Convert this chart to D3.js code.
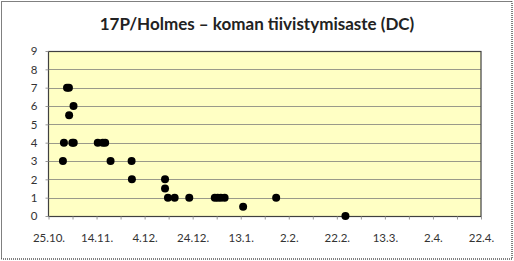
<!DOCTYPE html>
<html>
<head>
<meta charset="utf-8">
<script src="https://cdn.jsdelivr.net/npm/d3@7"></script>
<style>
  html, body { margin: 0; padding: 0; background: #fff; }
  svg { display: block; font-family: Lato, "Open Sans", sans-serif; }
</style>
</head>
<body>
<svg id="chart" width="514" height="261"></svg>
<script>
// observation times (UTC) and degree of condensation
const obsTimes = [
  "2007-10-31T00:00", "2007-10-31T10:00", "2007-11-01T17:00", "2007-11-02T12:00",
  "2007-11-02T14:00", "2007-11-04T10:00", "2007-11-03T22:00", "2007-11-04T12:00",
  "2007-11-14T12:00", "2007-11-16T14:00", "2007-11-17T14:00", "2007-11-19T20:00",
  "2007-11-28T14:00", "2007-11-28T17:00", "2007-12-12T12:00", "2007-12-12T12:00",
  "2007-12-13T17:00", "2007-12-16T12:00", "2007-12-22T14:00", "2008-01-02T05:00",
  "2008-01-03T10:00", "2008-01-04T17:00", "2008-01-06T07:00", "2008-01-14T00:00",
  "2008-01-27T18:00", "2008-02-25T14:00"
];
const dcValues = [3, 4, 7, 7, 5.5, 6, 4, 4, 4, 4, 4, 3, 3, 2, 2, 1.5, 1, 1, 1, 1, 1, 1, 1, 0.5, 1, 0];
const xTickDates = ["2007-10-25", "2007-11-14", "2007-12-04", "2007-12-24", "2008-01-13",
  "2008-02-02", "2008-02-22", "2008-03-13", "2008-04-02", "2008-04-22"];
const yTicks = [0, 1, 2, 3, 4, 5, 6, 7, 8, 9];
const title = "17P/Holmes \u2013 koman tiivistymisaste (DC)";

const parseT = d3.utcParse("%Y-%m-%dT%H:%M");
const parseD = d3.utcParse("%Y-%m-%d");
const fmt = d3.utcFormat("%-d.%-m.");
const key = d3.utcFormat("%Y-%m-%d");

const W = 514, H = 261;
const M = { left: 48.5, right: 481, top: 51, bottom: 216 };

const svg = d3.select("#chart");

// outer dotted frame
svg.append("rect")
  .attr("x", 1.5).attr("y", 1.5)
  .attr("width", W - 3.5).attr("height", H - 3.5)
  .attr("fill", "#fff")
  .attr("stroke", "#000")
  .attr("stroke-dasharray", "1,1");

svg.append("text")
  .attr("x", 257).attr("y", 30)
  .attr("text-anchor", "middle")
  .attr("font-size", 17).attr("font-weight", "bold")
  .attr("fill", "#222")
  .text(title);

const x = d3.scaleUtc()
  .domain([parseD(xTickDates[0]), parseD(xTickDates[xTickDates.length - 1])])
  .range([M.left, M.right]);
const y = d3.scaleLinear().domain([0, 9]).range([M.bottom, M.top]);

// plot area
svg.append("rect")
  .attr("x", M.left).attr("y", M.top)
  .attr("width", M.right - M.left).attr("height", M.bottom - M.top)
  .attr("fill", "#ffffc4");

// grid
svg.append("g").selectAll("line")
  .data(yTicks.slice(1, -1))
  .join("line")
  .attr("x1", M.left).attr("x2", M.right)
  .attr("y1", d => Math.round(y(d)) + 0.5).attr("y2", d => Math.round(y(d)) + 0.5)
  .attr("stroke", "#9a9a8a").attr("stroke-width", 1);

svg.append("rect")
  .attr("x", M.left).attr("y", M.top + 0.5)
  .attr("width", M.right - M.left).attr("height", M.bottom - M.top)
  .attr("fill", "none")
  .attr("stroke", "#404040").attr("stroke-width", 1.2);

// x axis: minor tick every 10 days, label every 20
const tenDays = d3.range(0, 19).map(i => d3.utcDay.offset(x.domain()[0], i * 10));
const xAxis = d3.axisBottom(x)
  .tickValues(tenDays)
  .tickSize(3)
  .tickFormat(d => xTickDates.includes(key(d)) ? fmt(d) : "");
const gx = svg.append("g")
  .attr("transform", `translate(0,${M.bottom + 0.5})`)
  .call(xAxis);
gx.select(".domain").remove();
gx.selectAll(".tick line").attr("stroke", "#999");
gx.selectAll(".tick text")
  .attr("y", 17)
  .attr("font-size", 11.5).attr("fill", "#333")
  .attr("font-family", "Lato, 'Open Sans', sans-serif");

// y axis
const yAxis = d3.axisLeft(y).tickValues(yTicks).tickSize(3).tickPadding(8);
const gy = svg.append("g")
  .attr("transform", `translate(${M.left},0)`)
  .call(yAxis);
gy.select(".domain").remove();
gy.selectAll(".tick line").attr("stroke", "#999");
gy.selectAll(".tick text")
  .attr("font-size", 11.5).attr("fill", "#333")
  .attr("font-family", "Lato, 'Open Sans', sans-serif");

// points
svg.append("g").selectAll("circle")
  .data(obsTimes.map((t, i) => ({ t: parseT(t), v: dcValues[i] })))
  .join("circle")
  .attr("cx", d => x(d.t))
  .attr("cy", d => y(d.v))
  .attr("r", 4)
  .attr("fill", "#000");
</script>
</body>
</html>
